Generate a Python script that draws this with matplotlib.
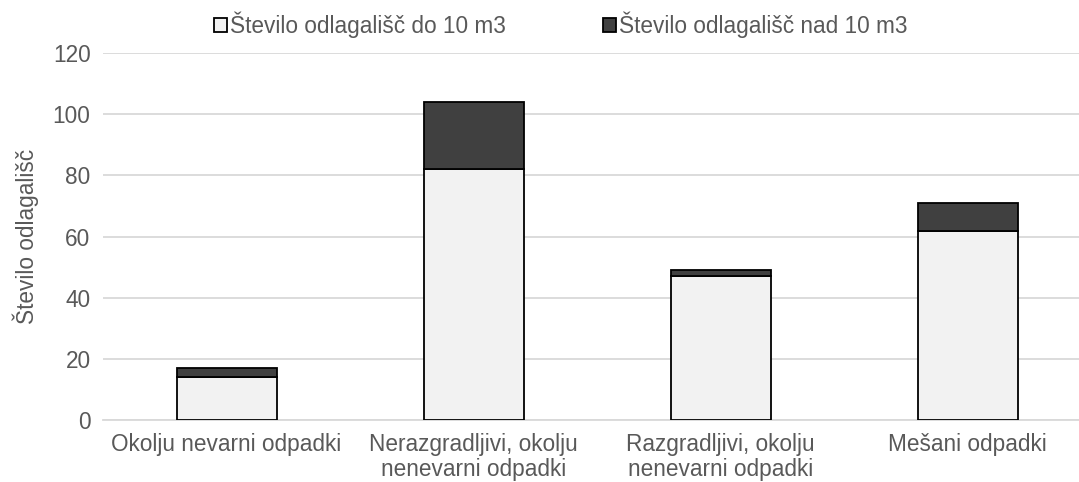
import numpy as np
import matplotlib.pyplot as plt

categories = [
    "Okolju nevarni odpadki",
    "Nerazgradljivi, okolju\nnenevarni odpadki",
    "Razgradljivi, okolju\nnenevarni odpadki",
    "Mešani odpadki",
]
do_10 = [14, 82, 47, 62]
nad_10 = [3, 22, 2, 9]
series_names = ["Število odlagališč do 10 m3", "Število odlagališč nad 10 m3"]
yticks = [0, 20, 40, 60, 80, 100, 120]

plt.rcParams["font.family"] = ["Liberation Sans", "DejaVu Sans"]
txt = "#595959"
fs = 16.3

fig = plt.figure(figsize=(10.79, 4.82), dpi=100)
# plot area runs a bit past the right edge of the picture, as in the original
ax = fig.add_axes([0.0955, 0.128, 0.9157, 0.762])

x = np.arange(len(categories))
w = 0.405
ax.bar(x, do_10, w, color="#F2F2F2", edgecolor="black", linewidth=1.3,
       label=series_names[0], zorder=3)
ax.bar(x, nad_10, w, bottom=do_10, color="#404040", edgecolor="black",
       linewidth=1.3, label=series_names[1], zorder=3)

ax.set_ylim(0, 120)
ax.set_xlim(-0.5, len(categories) - 0.5)
ax.set_yticks(yticks)
ax.yaxis.grid(True, color="#D9D9D9", linewidth=1.3, zorder=0)
ax.set_axisbelow(True)
for s in ["top", "right", "left"]:
    ax.spines[s].set_visible(False)
ax.spines["bottom"].set_color("#D9D9D9")
ax.spines["bottom"].set_linewidth(1.3)
ax.tick_params(length=0, labelsize=fs, colors=txt, pad=9)
ax.set_xticks(x)
ax.set_xticklabels(categories, linespacing=1.1)
ax.set_ylabel("Število odlagališč", fontsize=fs, color=txt, labelpad=10)

fig.legend(loc="center", bbox_to_anchor=(0.52, 0.948), ncol=2, frameon=False,
           fontsize=fs, labelcolor=txt, handlelength=0.55, handleheight=0.55,
           handletextpad=0.15, columnspacing=4.3)

fig.savefig("out.png", dpi=100)
